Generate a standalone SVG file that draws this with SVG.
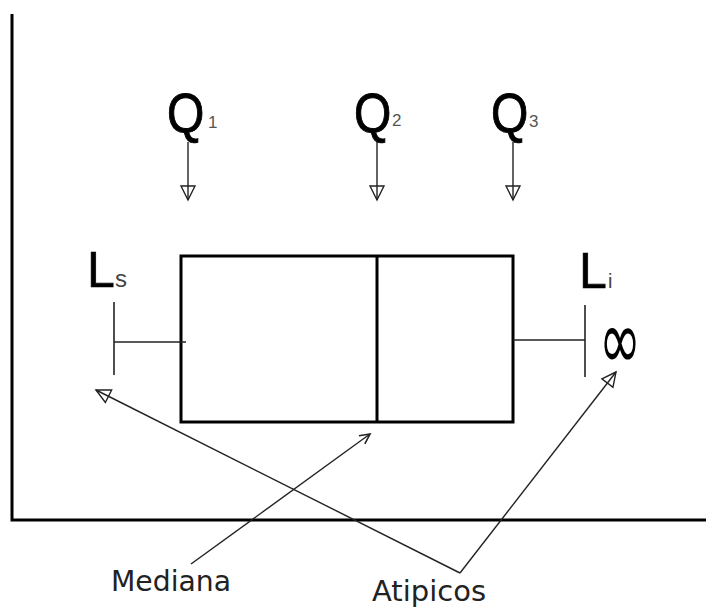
<svg xmlns="http://www.w3.org/2000/svg" width="706" height="608" viewBox="0 0 706 608">
<style>
.ax{stroke:#000;stroke-width:3;fill:none}
.box{stroke:#000;stroke-width:3;fill:none}
.wh{stroke:#222;stroke-width:1.6;fill:none}
.ar{stroke:#222;stroke-width:1.4;fill:none}
.q{font-family:"Liberation Sans",Arial,sans-serif;font-size:48px;fill:#000;stroke:#000;stroke-width:0.8}
.sub{font-family:"Liberation Sans",Arial,sans-serif;font-size:17px;fill:#555}
.lsub{font-family:"Liberation Sans",Arial,sans-serif;font-size:24px;fill:#444}
.l{font-family:"Liberation Sans",Arial,sans-serif;font-size:50px;fill:#000;stroke:#000;stroke-width:0.6}
.lab{font-family:"DejaVu Sans",Verdana,sans-serif;font-size:28px;fill:#222}
</style>
<defs>
<marker id="tri" viewBox="-16 -9 18 18" refX="0" refY="0" markerWidth="18" markerHeight="18" markerUnits="userSpaceOnUse" orient="auto">
<path d="M0,0 L-14,-7 L-14,7 Z" fill="none" stroke="#222" stroke-width="1.4"/>
</marker>
<marker id="vee" viewBox="-12 -7 14 14" refX="0" refY="0" markerWidth="14" markerHeight="14" markerUnits="userSpaceOnUse" orient="auto">
<path d="M-10,-5 L0,0 L-10,5" fill="none" stroke="#222" stroke-width="1.6"/>
</marker>
</defs>
<rect width="706" height="608" fill="#fff"/>
<g id="axes">
<path class="ax" d="M12,14 L12,520 L706,520"/>
</g>
<g id="box">
<rect class="box" x="181" y="256" width="332" height="166"/>
<line class="box" x1="377" y1="256" x2="377" y2="422"/>
</g>
<g id="whisker-left">
<line class="wh" x1="114" y1="342" x2="186" y2="342"/>
<line class="wh" x1="114" y1="302" x2="114" y2="375"/>
</g>
<g id="whisker-right">
<line class="wh" x1="513" y1="340" x2="585" y2="340"/>
<line class="wh" x1="585" y1="305" x2="585" y2="377"/>
</g>
<g id="q1">
<text class="q" x="167" y="132" transform="translate(0 132) scale(1 1.15) translate(0 -132)">Q</text>
<text class="sub" x="208" y="128">1</text>
</g>
<g id="q2">
<text class="q" x="354" y="132" transform="translate(0 132) scale(1 1.15) translate(0 -132)">Q</text>
<text class="sub" x="392" y="126">2</text>
</g>
<g id="q3">
<text class="q" x="491" y="132" transform="translate(0 132) scale(1 1.15) translate(0 -132)">Q</text>
<text class="sub" x="529" y="127">3</text>
</g>
<g id="ls">
<text class="l" x="87" y="287">L</text>
<text class="lsub" x="115" y="287">s</text>
</g>
<g id="li">
<text class="l" x="579" y="288">L</text>
<text class="lsub" x="608" y="288" style="font-size:20px">i</text>
</g>
<g id="inf">
<text x="620" y="360" text-anchor="middle" font-family="'DejaVu Sans',sans-serif" font-size="56" transform="translate(620 342) scale(0.9 1.5) translate(-620 -342)">∞</text>
</g>
<g id="connectors">
<line class="ar" x1="188" y1="142" x2="188" y2="200" marker-end="url(#tri)"/>
<line class="ar" x1="377" y1="142" x2="377" y2="200" marker-end="url(#tri)"/>
<line class="ar" x1="513" y1="142" x2="513" y2="200" marker-end="url(#tri)"/>
<line class="ar" x1="191" y1="564" x2="370" y2="434" marker-end="url(#vee)"/>
<line class="ar" x1="460" y1="573" x2="96" y2="390" marker-end="url(#tri)"/>
<line class="ar" x1="460" y1="573" x2="616" y2="372" marker-end="url(#tri)"/>
</g>
<g id="label-mediana">
<text class="lab" x="111" y="591" textLength="120" lengthAdjust="spacingAndGlyphs">Mediana</text>
</g>
<g id="label-atipicos">
<text class="lab" x="372" y="601" textLength="114" lengthAdjust="spacingAndGlyphs">Atipicos</text>
</g>
</svg>
